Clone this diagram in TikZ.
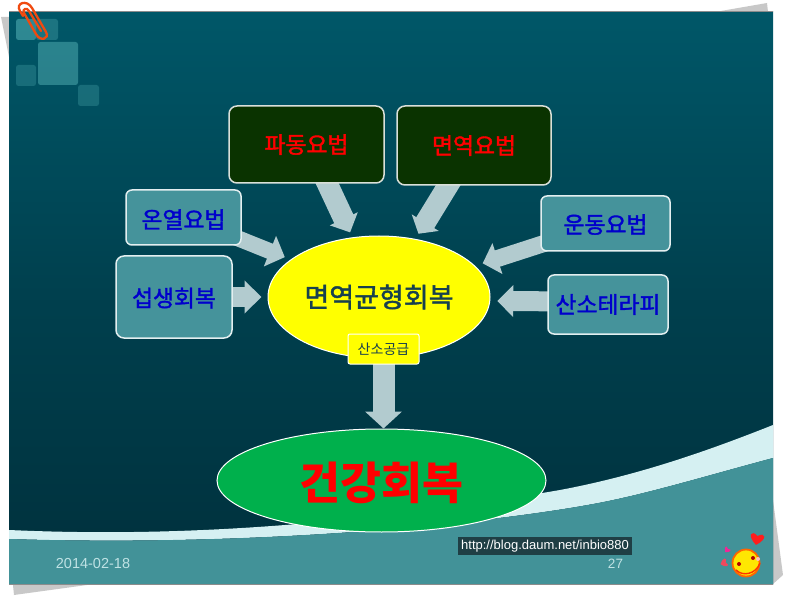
\documentclass[tikz,border=0pt]{standalone}
\usepackage{fontspec}
\setmainfont{Noto Sans CJK KR}
\newfontfamily\hangul[FakeBold=1.6]{Noto Sans CJK KR}
\newfontfamily\latinfont{Liberation Sans}
\usetikzlibrary{arrows.meta, shapes.geometric}
\pgfdeclarelayer{slide}
\pgfdeclarelayer{flows}
\pgfsetlayers{slide,flows,main}
\definecolor{slidetop}{HTML}{005768}
\definecolor{slidebot}{HTML}{00303C}
\definecolor{footc}{HTML}{429298}
\definecolor{swooshc}{HTML}{D5F0F2}
\definecolor{shadowc}{HTML}{C8C8C8}
\definecolor{boxc}{HTML}{45939B}
\definecolor{darkc}{HTML}{0A3300}
\definecolor{flowc}{HTML}{B2CBCF}
\definecolor{clipc}{HTML}{F04A10}
\definecolor{greenc}{HTML}{00B04C}
\definecolor{inkc}{HTML}{17404F}
\definecolor{urlc}{HTML}{1F3F45}
\definecolor{bluec}{HTML}{0000CC}
\definecolor{yelc}{HTML}{FFFF00}
\definecolor{decoc}{HTML}{70D0D0}
\newcommand{\drop}[2]{\raisebox{-#1pt}[\height][\depth]{#2}}
\newcommand{\therapy}[8]{%
  \node[rectangle, rounded corners=#7pt, draw=#5!15!white, fill=#5, line width=1.5pt,
        minimum width=#3pt, minimum height=#4pt, inner sep=0pt,
        font=\hangul\fontsize{22.8}{24}\selectfont, text=#6] (#1) at #2 {#8};
}
\newcommand{\flow}[6]{%
  \draw[flowc, line width=#3pt, shorten <=-10pt, shorten >=#6pt,
        -{Triangle[length=#5pt, width=#4pt]}] #1 -- #2;
}
\newcommand{\heart}[4]{%
  \fill[#3, shift={#1}, rotate=#4, scale=#2]
    (0,4) .. controls (-7,-1) and (-5,-6) .. (0,-2)
    .. controls (5,-6) and (7,-1) .. (0,4) -- cycle;
}
\newcommand{\deco}[3]{%
  \fill[decoc, opacity=#3, rounded corners=2.5pt] #1 rectangle #2;
}
\begin{document}
\begin{tikzpicture}[x=1pt, y=-1pt, line width=0.8pt]
    \useasboundingbox (0,0) rectangle (785,596);
    \begin{pgfonlayer}{slide}
    % page shadow
    \fill[shadowc] (1,17) -- (10,17) -- (10,62) -- cycle;
    \fill[shadowc] (715,12) -- (767,3) -- (768,12) -- cycle;
    \fill[shadowc] (773,500) -- (783,575) -- (773,584) -- cycle;
    \fill[shadowc] (13,585) -- (14,595) -- (87,585) -- cycle;
    % slide
    \shade[top color=slidetop, bottom color=slidebot, middle color=slidetop!40!slidebot]
      (9,12) rectangle (773,584);
    \fill[swooshc] (9,530) .. controls (120,535) and (300,535) .. (560,490)
      .. controls (640,475) and (710,450) .. (773,425) -- (773,458)
      .. controls (720,472) and (660,490) .. (613,500)
      .. controls (540,516) and (300,548) .. (9,539) -- cycle;
    \fill[footc] (9,539) .. controls (300,548) and (540,516) .. (613,500)
      .. controls (660,490) and (720,472) .. (773,458) -- (773,584) -- (9,584) -- cycle;
    \draw[black!45, line width=1pt] (9,12) -- (773,12);
    \draw[black!45, line width=1pt] (9,584) -- (773,584);
    \deco{(16,19)}{(36,40)}{0.42}
    \deco{(36,19)}{(58,40)}{0.25}
    \deco{(38,42)}{(78,85)}{0.38}
    \deco{(16,65)}{(36,86)}{0.22}
    \deco{(78,85)}{(99,106)}{0.22}
    \end{pgfonlayer}
    % therapies
    \therapy{padong}{(306.5,144.5)}{155}{77}{darkc}{red}{8}{파동요법}
    \therapy{myeonyeok}{(474,145.5)}{154}{79}{darkc}{red}{8}{면역요법}
    \therapy{onyeol}{(183.5,217.5)}{115}{55}{boxc}{bluec}{6}{\drop{2}{온열요법}}
    \therapy{seupsaeng}{(174,297)}{116}{82}{boxc}{bluec}{8}{\drop{1}{섭생회복}}
    \therapy{undong}{(605.5,223.5)}{129}{55}{boxc}{bluec}{6}{\drop{1}{운동요법}}
    \therapy{sanso}{(608,304.5)}{120}{59}{boxc}{bluec}{6}{산소테라피}
    \node[ellipse, draw=white, fill=yelc, line width=1pt, minimum width=222pt,
          minimum height=122pt, inner sep=0pt, text=inkc,
          font=\hangul\fontsize{27}{29}\selectfont] (balance) at (379,297) {면역균형회복};
    \node[ellipse, draw=white, fill=greenc, line width=1pt, minimum width=329pt,
          minimum height=103pt, inner sep=0pt, text=red,
          font=\bfseries\fontsize{44.5}{48}\selectfont] (recovery) at (381.5,480.5) {\drop{2}{건강회복}};
    \node[rectangle, rounded corners=2pt, draw=white, fill=yelc, line width=1pt,
          minimum width=71pt, minimum height=30pt, inner sep=0pt, text=inkc,
          font=\fontsize{14}{16}\selectfont] (supply) at (383.5,349) {산소공급};
    % block arrows
    \begin{pgfonlayer}{flows}
    \flow{(padong.-62)}{(balance.114.4)}{21}{30}{15}{5.4}
    \flow{(myeonyeok.-123.4)}{(balance.58.9)}{21}{31}{13}{6}
    \flow{(onyeol.-21.4)}{(balance.157.7)}{16}{32}{16}{6.3}
    \flow{(seupsaeng.0)}{(balance.180)}{20}{32}{17}{6}
    \flow{(undong.-162.4)}{(balance.18.3)}{17}{31.6}{15.5}{8}
    \flow{(sanso.177.6)}{(balance.-2)}{20}{31}{16}{7}
    \flow{(supply.south)}{(supply.south |- recovery.north)}{22}{36}{17}{0}
    \end{pgfonlayer}
    % footer
    \node[font=\latinfont\fontsize{14.5}{16}\selectfont, text=swooshc!85!footc] (date) at (93,564) {2014-02-18};
    \node[font=\latinfont\fontsize{13.5}{15}\selectfont, text=swooshc!85!footc] (page) at (615.5,563.5) {27};
    \node[rectangle, fill=urlc, text=white, minimum width=174pt, minimum height=18pt,
          inner sep=0pt, font=\latinfont\fontsize{13}{14}\selectfont] (url) at (545,546) {http://blog.daum.net/inbio880};
    % paper clip
    \draw[clipc, line width=2.3pt, line cap=round]
      (41,31) -- (29,11) .. controls (27,7) and (22,9) .. (24,13) -- (36,34)
      .. controls (40,42) and (50,39) .. (46,32) -- (32,8)
      .. controls (27,-1) and (15,3) .. (20,11) -- (23,16);
    % smiley
    \node[circle, draw=orange!80!red, fill=yellow!90!orange, line width=1.8pt,
          minimum size=27pt, inner sep=0pt] (smiley) at (746,563) {};
    \fill[red!70!black] (739,564) circle (2);
    \fill[red!70!black] (753,558) circle (2);
    \fill[pink] (758,559) circle (2);
    \draw[red!60!orange, line width=1.4pt] (736,570) .. controls (743,577) and (756,574) .. (760,563);
    \heart{(757,539)}{1.5}{red!85!pink}{-10}
    \heart{(727,550)}{0.7}{magenta!80!pink}{-40}
    \heart{(724,563)}{0.9}{magenta!30!red!75!white}{-70}
  \end{tikzpicture}
\end{document}
